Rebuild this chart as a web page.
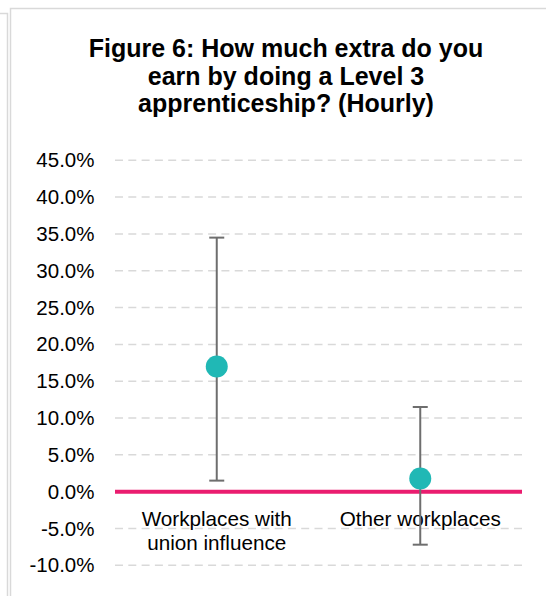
<!DOCTYPE html>
<html>
<head>
<meta charset="utf-8">
<script src="https://cdn.jsdelivr.net/npm/d3@7"></script>
<style>
	body { margin: 0; background: #fff; }
	text { font-family: "Liberation Sans", Arial, sans-serif; fill: #000; }
</style>
</head>
<body>
<script>
// chart data
const categories = ['Workplaces with union influence', 'Other workplaces'];
const labelLines = [['Workplaces with', 'union influence'], ['Other workplaces']];
const estimates = [17.0, 1.8];
const lower = [1.5, -7.2];
const upper = [34.5, 11.5];
const tickValues = [-10, -5, 0, 5, 10, 15, 20, 25, 30, 35, 40, 45];
const titleLines = ['Figure 6: How much extra do you', 'earn by doing a Level 3', 'apprenticeship? (Hourly)'];

const width = 546;
const height = 596;
const plot = { left: 115, right: 522, top: 160.3, bottom: 565.3 };

const svg = d3
	.select('body')
	.append('svg')
	.attr('width', width)
	.attr('height', height);

// panel frames (neighbouring panel edge + this one)
svg.append('path')
	.attr('d', 'M0,13.5H7.5V596')
	.attr('fill', 'none')
	.attr('stroke', '#d9d9d9')
	.attr('stroke-width', 1.5);
svg.append('path')
	.attr('d', 'M10.5,596V8.5H546')
	.attr('fill', 'none')
	.attr('stroke', '#d9d9d9')
	.attr('stroke-width', 1.5);

const yscale = d3
	.scaleLinear()
	.domain([-10, 45])
	.range([plot.bottom, plot.top]);

const xscale = d3
	.scaleBand()
	.domain(categories)
	.range([plot.left, plot.right]);

// title
svg.append('text')
	.attr('text-anchor', 'middle')
	.attr('font-weight', 'bold')
	.attr('font-size', '25px')
	.selectAll('tspan')
	.data(titleLines)
	.enter()
	.append('tspan')
	.attr('x', 286)
	.attr('y', (d, i) => 57 + i * 27.6)
	.text(d => d);

// gridlines
svg.append('g')
	.selectAll('line')
	.data(tickValues)
	.enter()
	.append('line')
	.attr('x1', plot.left)
	.attr('x2', plot.right)
	.attr('y1', d => yscale(d))
	.attr('y2', d => yscale(d))
	.attr('stroke', '#d9d9d9')
	.attr('stroke-width', 1.5)
	.attr('stroke-dasharray', '8,5.3');

// y axis labels
const yAxis = d3
	.axisLeft(yscale)
	.tickValues(tickValues)
	.tickSize(0)
	.tickPadding(20.5)
	.tickFormat(d => d.toFixed(1) + '%');

const yg = svg.append('g')
	.attr('transform', `translate(${plot.left},0)`)
	.call(yAxis);
yg.select('.domain').remove();
yg.selectAll('text')
	.attr('font-size', '20.5px')
	.attr('font-family', '"Liberation Sans", Arial, sans-serif')
	.attr('fill', '#000');

// zero line
svg.append('line')
	.attr('x1', plot.left)
	.attr('x2', plot.right)
	.attr('y1', yscale(0))
	.attr('y2', yscale(0))
	.attr('stroke', '#ea1c6f')
	.attr('stroke-width', 4);

// category labels
const cat = svg.append('g')
	.selectAll('text')
	.data(categories)
	.enter()
	.append('text')
	.attr('text-anchor', 'middle')
	.attr('font-size', '20.7px');
cat.selectAll('tspan')
	.data((d, i) => labelLines[i].map(t => ({ t, c: d })))
	.enter()
	.append('tspan')
	.attr('x', d => xscale(d.c) + xscale.bandwidth() / 2)
	.attr('y', (d, i) => 526 + i * 23.5)
	.text(d => d.t);

// error bars
const cx = d => xscale(d) + xscale.bandwidth() / 2;
const bars = svg.append('g')
	.selectAll('g')
	.data(categories)
	.enter()
	.append('g')
	.attr('stroke', '#6e6e6e')
	.attr('stroke-width', 2);

bars.append('line')
	.attr('x1', cx).attr('x2', cx)
	.attr('y1', (d, i) => yscale(upper[i]))
	.attr('y2', (d, i) => yscale(lower[i]));
bars.append('line')
	.attr('x1', d => cx(d) - 7.5).attr('x2', d => cx(d) + 7.5)
	.attr('y1', (d, i) => yscale(upper[i]))
	.attr('y2', (d, i) => yscale(upper[i]));
bars.append('line')
	.attr('x1', d => cx(d) - 7.5).attr('x2', d => cx(d) + 7.5)
	.attr('y1', (d, i) => yscale(lower[i]))
	.attr('y2', (d, i) => yscale(lower[i]));

// point estimates
svg.append('g')
	.selectAll('circle')
	.data(categories)
	.enter()
	.append('circle')
	.attr('cx', cx)
	.attr('cy', (d, i) => yscale(estimates[i]))
	.attr('r', 11)
	.attr('fill', '#20b8b5');
</script>
</body>
</html>
